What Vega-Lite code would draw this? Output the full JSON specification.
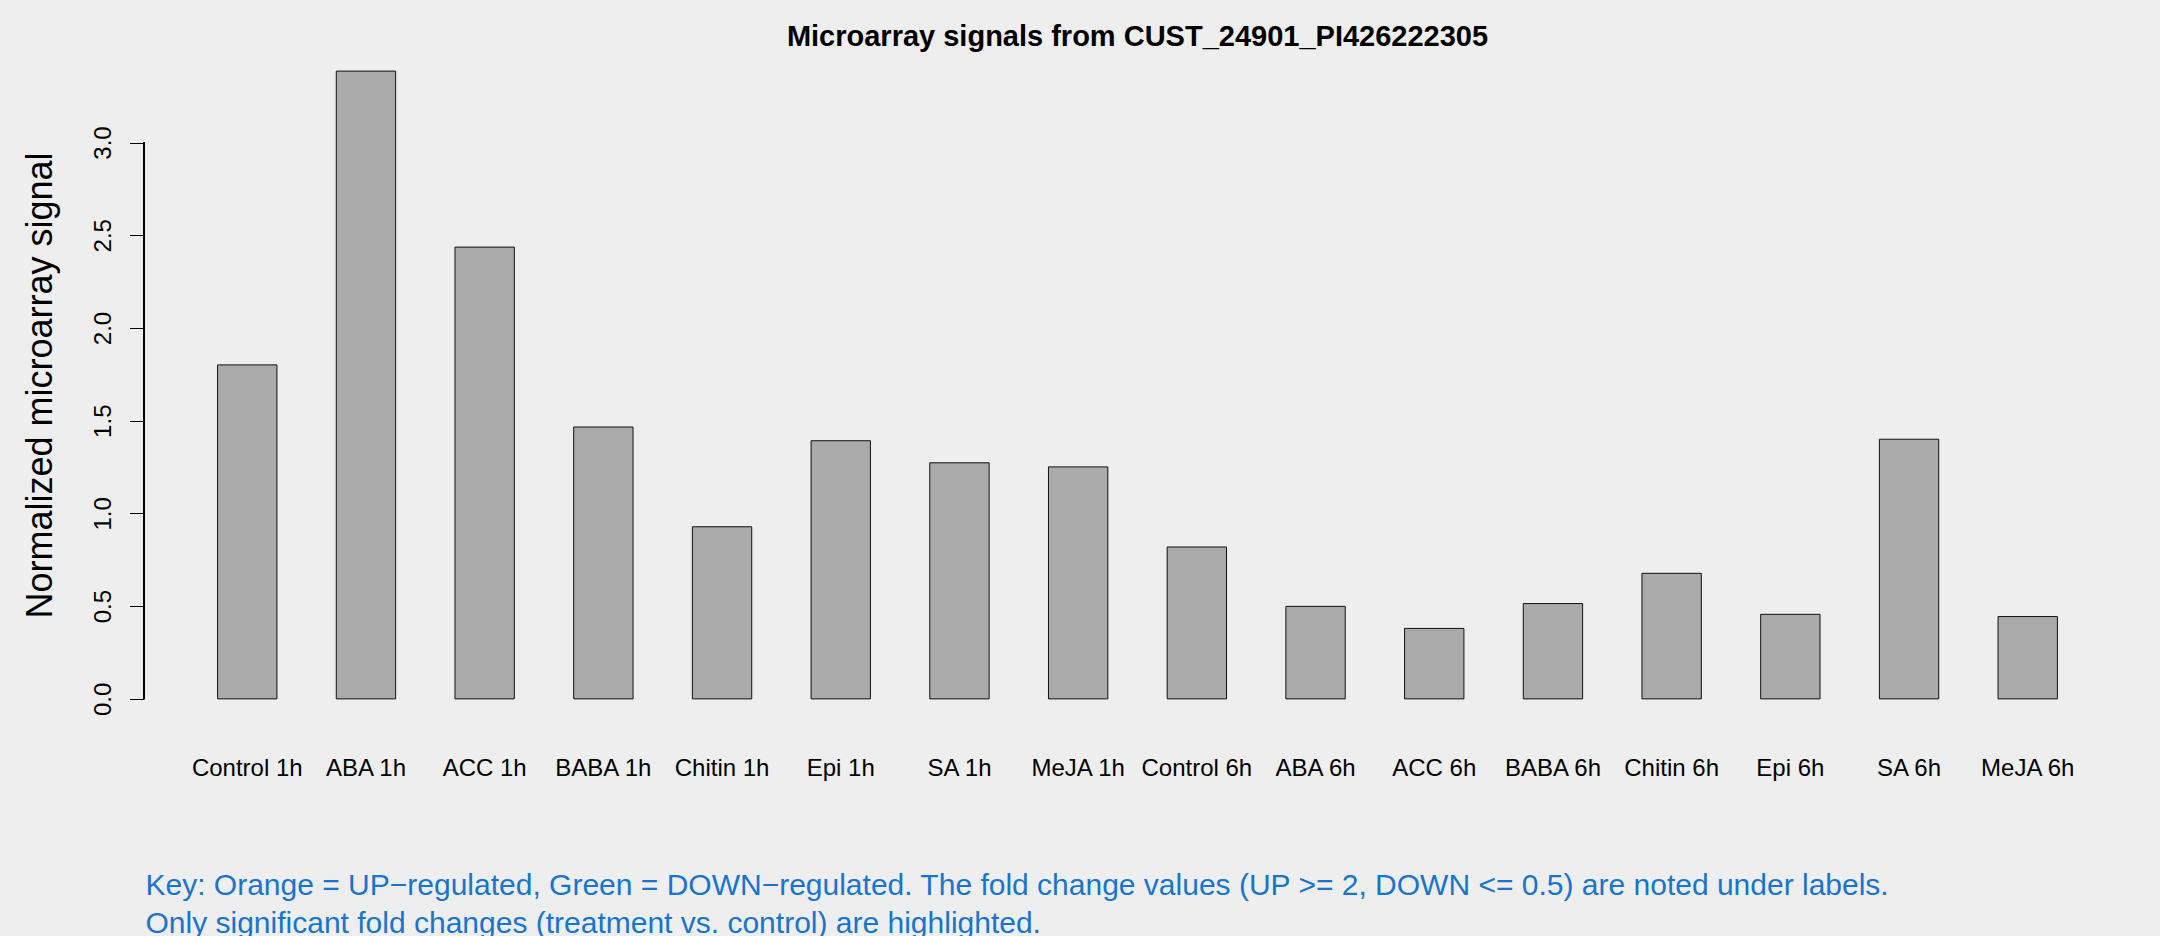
{
  "$schema": "https://vega.github.io/schema/vega-lite/v6.json",
  "autosize": "none",
  "width": 1987,
  "height": 678,
  "padding": {"left": 144, "top": 46, "right": 29, "bottom": 212},
  "background": "#EEEEEE",
  "title": {
    "text": "Microarray signals from CUST_24901_PI426222305",
    "font": "Liberation Sans",
    "fontSize": 29,
    "fontWeight": "bold",
    "color": "#000000",
    "anchor": "middle",
    "frame": "group",
    "baseline": "alphabetic",
    "offset": -29
  },
  "config": {
    "view": {"stroke": null},
    "font": "Liberation Sans"
  },
  "data": {
    "values": [
      {"sample": "Control 1h", "signal": 1.801},
      {"sample": "ABA 1h", "signal": 3.385},
      {"sample": "ACC 1h", "signal": 2.436},
      {"sample": "BABA 1h", "signal": 1.466},
      {"sample": "Chitin 1h", "signal": 0.928},
      {"sample": "Epi 1h", "signal": 1.392},
      {"sample": "SA 1h", "signal": 1.273},
      {"sample": "MeJA 1h", "signal": 1.251},
      {"sample": "Control 6h", "signal": 0.819},
      {"sample": "ABA 6h", "signal": 0.499},
      {"sample": "ACC 6h", "signal": 0.380},
      {"sample": "BABA 6h", "signal": 0.514},
      {"sample": "Chitin 6h", "signal": 0.677},
      {"sample": "Epi 6h", "signal": 0.456},
      {"sample": "SA 6h", "signal": 1.400},
      {"sample": "MeJA 6h", "signal": 0.444}
    ]
  },
  "layer": [
    {
      "mark": {"type": "bar", "fill": "#AAAAAA", "stroke": "#111111", "strokeWidth": 1},
      "encoding": {
        "x": {
          "field": "sample",
          "type": "nominal",
          "sort": null,
          "scale": {"paddingInner": 0.5, "paddingOuter": 0.62},
          "axis": {
            "domain": false,
            "ticks": false,
            "tickSize": 0,
            "labelAngle": 0,
            "labelFont": "Liberation Sans",
            "labelFontSize": 24,
            "labelColor": "#000000",
            "labelBaseline": "alphabetic",
            "labelPadding": 51,
            "labelOverlap": false,
            "title": [
              "Key: Orange = UP−regulated, Green = DOWN−regulated. The fold change values (UP >= 2, DOWN <= 0.5) are noted under labels.",
              "Only significant fold changes (treatment vs. control) are highlighted."
            ],
            "titleFont": "Liberation Sans",
            "titleFontSize": 30,
            "titleFontWeight": "normal",
            "titleColor": "#1874CD",
            "titleAlign": "left",
            "titleAnchor": "start",
            "titleBaseline": "alphabetic",
            "titleLineHeight": 38,
            "titleX": 1,
            "titleY": 170
          }
        },
        "y": {
          "field": "signal",
          "type": "quantitative",
          "scale": {"domain": [-0.1354, 3.5204], "zero": false, "nice": false},
          "axis": {
            "values": [0, 0.5, 1, 1.5, 2, 2.5, 3],
            "format": ".1f",
            "domain": false,
            "grid": false,
            "ticks": true,
            "tickSize": 14.5,
            "tickColor": "#000000",
            "tickWidth": 1,
            "labelAngle": -90,
            "labelAlign": "center",
            "labelBaseline": "alphabetic",
            "labelPadding": 19.5,
            "labelFont": "Liberation Sans",
            "labelFontSize": 24,
            "labelColor": "#000000",
            "labelOverlap": false,
            "title": "Normalized microarray signal",
            "titleFont": "Liberation Sans",
            "titleFontSize": 36,
            "titleFontWeight": "normal",
            "titleColor": "#000000",
            "titleAngle": -90,
            "titleAlign": "center",
            "titleBaseline": "alphabetic",
            "titleX": -92.3,
            "titleY": 339
          }
        },
        "y2": {"datum": 0}
      }
    },
    {
      "mark": {"type": "rule", "color": "#000000", "strokeWidth": 1},
      "encoding": {
        "x": {"value": 0},
        "y": {"datum": 0},
        "y2": {"datum": 3}
      }
    }
  ]
}
